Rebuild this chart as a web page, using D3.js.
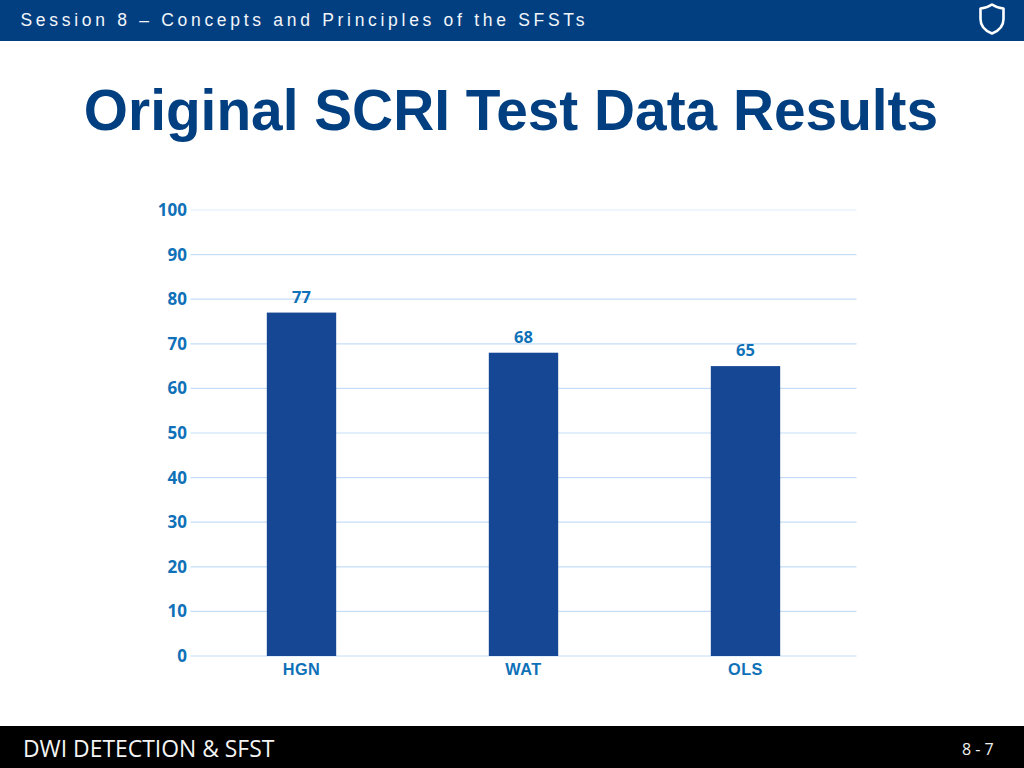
<!DOCTYPE html>
<html><head><meta charset="utf-8">
<script src="https://cdn.jsdelivr.net/npm/d3@7/dist/d3.min.js"></script>
<style>html,body{margin:0;padding:0;background:#fff;overflow:hidden}svg{display:block}</style>
</head><body><svg id="c" width="1024" height="768"></svg>
<script>
const categories = ["HGN","WAT","OLS"];
const values = [77,68,65];
const yTicks = [0,10,20,30,40,50,60,70,80,90,100];
const headerText = "Session 8 – Concepts and Principles of the SFSTs";
const titleText = "Original SCRI Test Data Results";
const footerText = "DWI DETECTION & SFST";
const pageText = "8 - 7";

const svg = d3.select("#c");
const sans = "'Liberation Sans',Arial,sans-serif";
const noto = "'Open Sans','Noto Sans',sans-serif";
const blue = "#0F71B8";

svg.append("rect").attr("width",1024).attr("height",41).attr("fill","#023F81");
svg.append("text").attr("x",20.5).attr("y",26).attr("fill","#F2F6FA")
  .attr("font-family",sans).attr("font-size",17.5).attr("letter-spacing",3.7).text(headerText);
svg.append("path").attr("d","M992 4.5 C995.5 7 999 8 1003.5 8.5 L1003.5 19 C1003.5 26 998.5 31 992 33.5 C985.5 31 980.5 26 980.5 19 L980.5 8.5 C985 8 988.5 7 992 4.5 Z")
  .attr("fill","none").attr("stroke","#fff").attr("stroke-width",2.6).attr("stroke-linejoin","round");

svg.append("text").attr("x",511).attr("y",129.5).attr("text-anchor","middle").attr("fill","#023F81")
  .attr("font-family",sans).attr("font-weight","bold").attr("font-size",56.8).text(titleText);

const x = d3.scaleBand().domain(categories).range([190.5,856.5]).paddingInner(0.6875).paddingOuter(0.34375);
const y = d3.scaleLinear().domain([0,100]).range([656,210]);

svg.append("g").selectAll("line").data(yTicks).join("line")
  .attr("x1",190.5).attr("x2",856.5).attr("y1",d=>y(d)).attr("y2",d=>y(d))
  .attr("stroke",d=>d===100?"#E0ECFA":"#C5DDF6").attr("stroke-width",1.2);

svg.append("g").selectAll("text").data(yTicks).join("text")
  .attr("x",187).attr("y",d=>y(d)+6).attr("text-anchor","end").attr("fill",blue)
  .attr("font-family",noto).attr("font-weight",700).attr("font-size",17).text(d=>d);

const idx = d3.range(values.length);
svg.append("g").selectAll("rect").data(idx).join("rect")
  .attr("x",i=>x(categories[i])).attr("width",x.bandwidth())
  .attr("y",i=>y(values[i])).attr("height",i=>y(0)-y(values[i])).attr("fill","#164794");

svg.append("g").selectAll("text").data(idx).join("text")
  .attr("x",i=>x(categories[i])+x.bandwidth()/2).attr("y",i=>y(values[i])-10)
  .attr("text-anchor","middle").attr("fill",blue)
  .attr("font-family",noto).attr("font-weight",700).attr("font-size",16.5).text(i=>values[i]);

svg.append("g").selectAll("text").data(categories).join("text")
  .attr("x",d=>x(d)+x.bandwidth()/2).attr("y",674.5).attr("text-anchor","middle").attr("fill",blue)
  .attr("font-family",sans).attr("font-weight","bold").attr("font-size",16.3).attr("letter-spacing",0.5).text(d=>d);

svg.append("rect").attr("y",726).attr("width",1024).attr("height",42).attr("fill","#000");
svg.append("text").attr("x",23).attr("y",756.5).attr("fill","#F4F4F4")
  .attr("font-family",noto).attr("font-size",22.9).text(footerText);
svg.append("text").attr("x",962).attr("y",755).attr("fill","#F0F0F0")
  .attr("font-family",noto).attr("font-size",16).attr("letter-spacing",0).text(pageText);
</script></body></html>
